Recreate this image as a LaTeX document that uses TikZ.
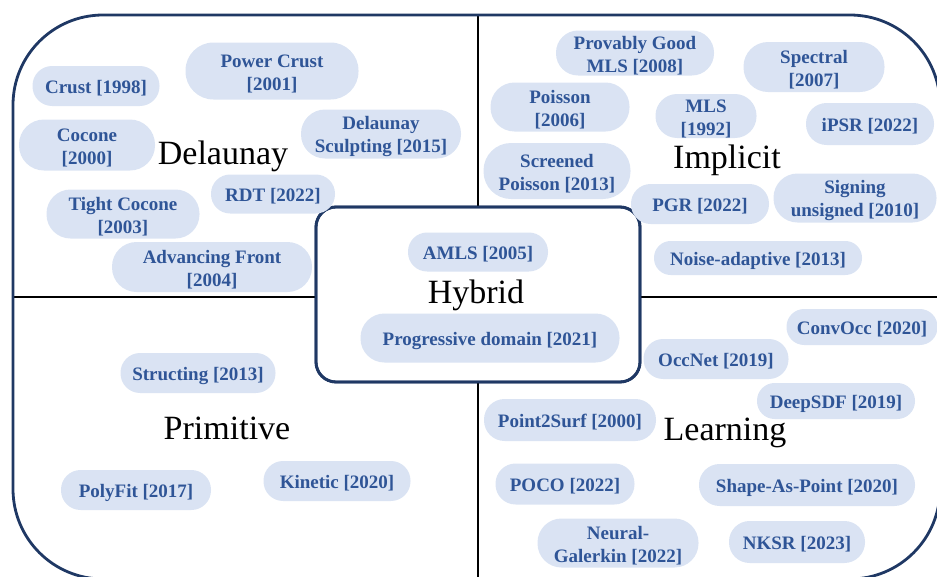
\documentclass[tikz,border=0pt]{standalone}
\usepackage{fontspec}
\setmainfont{Liberation Serif}
\definecolor{pillfill}{HTML}{DAE3F3}
\definecolor{pilltext}{HTML}{2F5597}
\definecolor{navy}{HTML}{1F3864}
\tikzset{
  % text sits a little below the optical centre of its pill
  pill/.style 2 args={draw=none, text=pilltext,
    preaction={fill=pillfill, transform canvas={yshift=2.5pt}},
    yshift=-2.5pt,
    font=\fontsize{19}{23}\selectfont\bfseries, align=center, inner sep=0pt,
    minimum width=#1pt, minimum height=#2pt, rounded corners=#2*0.49pt},
  category/.style={font=\fontsize{34}{40}\selectfont, text=black, anchor=base, inner sep=0pt},
  frame/.style={draw=navy, line width=2.8pt},
  divider/.style={draw=black, line width=2.6pt},
}
\begin{document}
\begin{tikzpicture}[x=1pt, y=-1pt]
\useasboundingbox (0,0) rectangle (937,576);

% hybrid region in the middle, quadrant dividers around it
\node[frame, fill=white, rounded corners=20pt, minimum width=324pt, minimum height=175pt,
      inner sep=0pt] (hybrid) at (478,294.5) {};
\draw[divider] (478,15) -- (hybrid.north);
\draw[divider] (hybrid.south) -- (478,579);
\draw[divider] (13,297) -- (hybrid.west |- 0,297);
\draw[divider] (hybrid.east |- 0,297) -- (940,297);
% redraw the hybrid border over the divider ends
\node[frame, rounded corners=20pt, minimum width=324pt, minimum height=175pt,
      inner sep=0pt] at (hybrid.center) {};

% outer frame
\draw[frame, rounded corners=90pt] (13,15) rectangle (940,579);

% category names
\node[category] (lDel) at (223,164) {Delaunay};
\node[category] (lImp) at (727,168) {Implicit};
\node[category] (lHyb) at (476,303) {Hybrid};
\node[category] (lPri) at (227,439) {Primitive};
\node[category] (lLea) at (725,440) {Learning};

% Delaunay methods
\node[pill={127}{40}] (crust) at (96,86) {Crust [1998]};
\node[pill={173}{57}] (powercrust) at (272,71) {Power Crust\\{[2001]}};
\node[pill={136}{51}] (cocone) at (87,145) {Cocone\\{[2000]}};
\node[pill={160}{49}] (delsculpt) at (381,134) {Delaunay\\Sculpting [2015]};
\node[pill={124}{39}] (rdt) at (273,194) {RDT [2022]};
\node[pill={153}{49}] (tightcocone) at (123,214) {Tight Cocone\\{[2003]}};
\node[pill={200}{50}] (advfront) at (212,267) {Advancing Front\\{[2004]}};

% Implicit methods
\node[pill={158}{45}] (pgmls) at (635,53) {Provably Good\\MLS [2008]};
\node[pill={141}{50}] (spectral) at (814,67) {Spectral\\{[2007]}};
\node[pill={139}{49}] (poisson) at (560,107) {Poisson\\{[2006]}};
\node[pill={101}{44}] (mls) at (706,116) {MLS\\{[1992]}};
\node[pill={128}{42}] (ipsr) at (870,124) {iPSR [2022]};
\node[pill={147}{56}] (screened) at (557,171) {Screened\\Poisson [2013]};
\node[pill={138}{40}] (pgr) at (700,204) {PGR [2022]};
\node[pill={163}{49}] (signing) at (855,198) {Signing\\unsigned [2010]};
\node[pill={208}{34}] (noise) at (758,258) {Noise-adaptive [2013]};

% Hybrid methods
\node[pill={140}{39}] (amls) at (478,252) {AMLS [2005]};
\node[pill={259}{49}] (progressive) at (490,338) {Progressive domain [2021]};

% Primitive methods
\node[pill={155}{40}] (structing) at (198,373) {Structing [2013]};
\node[pill={150}{40}] (polyfit) at (136,490) {PolyFit [2017]};
\node[pill={147}{40}] (kinetic) at (337,481) {Kinetic [2020]};

% Learning methods
\node[pill={151}{36}] (convocc) at (862,327) {ConvOcc [2020]};
\node[pill={145}{40}] (occnet) at (716,359) {OccNet [2019]};
\node[pill={158}{36}] (deepsdf) at (836,401) {DeepSDF [2019]};
\node[pill={172}{42}] (point2surf) at (570,420) {Point2Surf [2000]};
\node[pill={139}{41}] (poco) at (565,484) {POCO [2022]};
\node[pill={216}{42}] (sap) at (807,485) {Shape-As-Point [2020]};
\node[pill={161}{49}] (neural) at (618,543) {Neural-\\Galerkin [2022]};
\node[pill={136}{42}] (nksr) at (797,542) {NKSR [2023]};
\end{tikzpicture}
\end{document}
